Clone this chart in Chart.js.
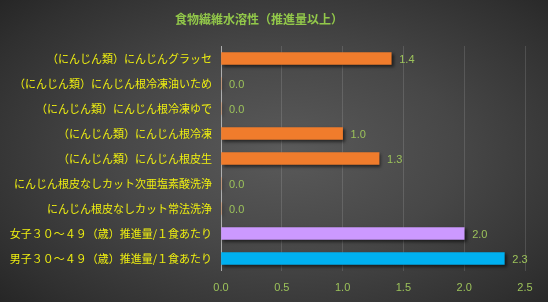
<!DOCTYPE html>
<html lang="ja">
<head>
    <meta charset="UTF-8">
    <title>食物繊維水溶性</title>
    <script src="https://cdn.jsdelivr.net/npm/chart.js"></script>
    <style>
        html, body { margin: 0; padding: 0; }
        body {
            width: 548px; height: 302px; overflow: hidden;
            background: radial-gradient(ellipse 70% 75% at 52% 50%, #5a5a5a 0%, #474747 45%, #303030 85%, #262626 100%);
        }
        #wrap { position: relative; width: 548px; height: 302px; }
    </style>
</head>
<body>
<div id="wrap"><canvas id="chart" width="548" height="302"></canvas></div>

<script>
    // data
    const categories = [
        '（にんじん類）にんじんグラッセ',
        '（にんじん類）にんじん根冷凍油いため',
        '（にんじん類）にんじん根冷凍ゆで',
        '（にんじん類）にんじん根冷凍',
        '（にんじん類）にんじん根皮生',
        'にんじん根皮なしカット次亜塩素酸洗浄',
        'にんじん根皮なしカット常法洗浄',
        '女子３０～４９（歳）推進量/１食あたり',
        '男子３０～４９（歳）推進量/１食あたり'
    ];
    const values = [1.4, 0.0, 0.0, 1.0, 1.3, 0.0, 0.0, 2.0, 2.33];
    const xTicks = [0, 0.5, 1.0, 1.5, 2.0, 2.5];
    const titleText = '食物繊維水溶性（推進量以上）';

    const barColors = ['#f07c2c', '#f07c2c', '#f07c2c', '#f07c2c', '#f07c2c', '#f07c2c', '#f07c2c', '#cc99ff', '#00b0f0'];
    const jpFont = '"Noto Sans CJK JP", "Noto Sans", sans-serif';

    // title + value labels + bar shadow
    const extras = {
        id: 'extras',
        beforeDatasetDraw(chart) {
            const ctx = chart.ctx;
            ctx.save();
            ctx.shadowColor = 'rgba(0,0,0,0.55)';
            ctx.shadowOffsetX = 2;
            ctx.shadowOffsetY = 2;
            ctx.shadowBlur = 3;
        },
        afterDatasetDraw(chart) {
            chart.ctx.restore();
        },
        afterDraw(chart) {
            const ctx = chart.ctx;
            ctx.save();
            ctx.fillStyle = '#92c84a';
            ctx.font = 'bold 12px ' + jpFont;
            ctx.textAlign = 'center';
            ctx.textBaseline = 'middle';
            ctx.fillText(titleText, 259, 19);

            ctx.font = '11px "Liberation Sans", Arial, sans-serif';
            ctx.textAlign = 'left';
            ctx.fillStyle = '#9cc25a';
            const meta = chart.getDatasetMeta(0);
            meta.data.forEach((bar, i) => {
                ctx.fillText(values[i].toFixed(1), bar.x + 8, bar.y + 1);
            });
            ctx.restore();
        }
    };

    new Chart(document.getElementById('chart'), {
        type: 'bar',
        data: {
            labels: categories,
            datasets: [{
                data: values,
                backgroundColor: barColors,
                borderWidth: 0,
                barThickness: 12
            }]
        },
        options: {
            indexAxis: 'y',
            responsive: false,
            animation: false,
            layout: { padding: { top: 46, right: 23, bottom: 0, left: 0 } },
            plugins: {
                legend: { display: false },
                tooltip: { enabled: false }
            },
            scales: {
                x: {
                    min: 0,
                    max: 2.5,
                    afterBuildTicks(scale) {
                        scale.ticks = xTicks.map(v => ({ value: v }));
                    },
                    afterFit(scale) { scale.height = 31; },
                    grid: {
                        color: ctx => ctx.index === 0 ? 'rgba(200,200,200,0.8)' : 'rgba(255,255,255,0.13)',
                        drawTicks: false
                    },
                    border: { display: false },
                    ticks: {
                        color: '#9cc25a',
                        padding: 10,
                        font: { family: '"Liberation Sans", Arial, sans-serif', size: 11 },
                        callback: v => Number(v).toFixed(1)
                    }
                },
                y: {
                    afterFit(scale) { scale.width = 221; },
                    grid: { display: false, drawTicks: false },
                    border: { display: false },
                    ticks: {
                        color: '#eeee10',
                        padding: 9,
                        font: { family: jpFont, size: 11 }
                    }
                }
            }
        },
        plugins: [extras]
    });
</script>
</body>
</html>
